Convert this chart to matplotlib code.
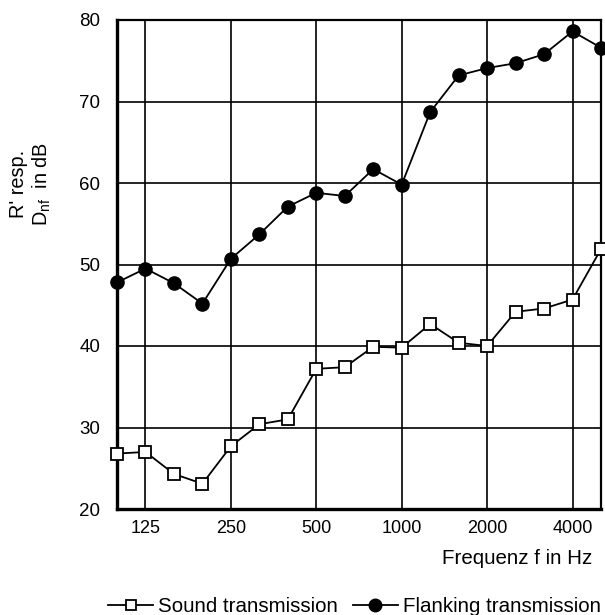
import matplotlib
matplotlib.use("Agg")
import matplotlib.pyplot as plt
import numpy as np

plt.rcParams['font.family'] = ['Liberation Sans', 'DejaVu Sans']
plt.rcParams['mathtext.fontset'] = 'custom'
plt.rcParams['mathtext.rm'] = 'Liberation Sans'
plt.rcParams['mathtext.it'] = 'Liberation Sans'

# third-octave bands 100 Hz .. 5000 Hz
bands = [100, 125, 160, 200, 250, 315, 400, 500, 630, 800,
         1000, 1250, 1600, 2000, 2500, 3150, 4000, 5000]
sound = [26.8, 27.0, 24.3, 23.1, 27.7, 30.4, 31.0, 37.2, 37.4, 39.9,
         39.8, 42.7, 40.4, 40.0, 44.2, 44.6, 45.7, 51.9]
flanking = [47.8, 49.5, 47.7, 45.2, 50.7, 53.7, 57.1, 58.8, 58.4, 61.7,
            59.8, 68.7, 73.2, 74.1, 74.7, 75.8, 78.6, 76.6]
tick_labels = ["125", "250", "500", "1000", "2000", "4000"]
yticks = [20, 30, 40, 50, 60, 70, 80]

x = np.arange(len(bands))
tick_pos = [bands.index(int(t)) for t in tick_labels]

fig = plt.figure(figsize=(6.05, 6.15), dpi=100)
ax = fig.add_axes([117 / 605, 1 - 509 / 615, 484 / 605, 489 / 615])

ax.set_xlim(x[0], x[-1])
ax.set_ylim(20, 80)
ax.set_xticks(tick_pos)
ax.set_xticklabels(tick_labels, fontsize=13)
ax.set_yticks(yticks)
ax.set_yticklabels([str(v) for v in yticks], fontsize=13.5)
ax.tick_params(axis='both', length=0)
ax.tick_params(axis='y', pad=12)
ax.tick_params(axis='x', pad=8)
ax.grid(True, color='black', linewidth=1.2)
ax.set_axisbelow(True)

for side in ['left', 'bottom']:
    ax.spines[side].set_linewidth(2.4)
for side in ['top', 'right']:
    ax.spines[side].set_linewidth(1.6)

l1, = ax.plot(x, sound, color='black', linewidth=1.3, marker='s',
              markersize=8, markerfacecolor='white', markeredgecolor='black',
              markeredgewidth=1.3, clip_on=False, zorder=3,
              label='Sound transmission')
l2, = ax.plot(x, flanking, color='black', linewidth=1.3, marker='o',
              markersize=9.5, markerfacecolor='black', clip_on=False,
              zorder=3, label='Flanking transmission')

fig.text(31 / 605, 1 - 184 / 615, "R' resp.\nD$_{\\mathrm{nf}}$  in dB",
         rotation=90, ha='center', va='center', multialignment='center',
         fontsize=14.3, linespacing=1.15)
fig.text(592 / 605, 1 - 558 / 615, "Frequenz f in Hz", ha='right',
         va='center', fontsize=14.8)

fig.legend(handles=[l1, l2], loc='center right',
           bbox_to_anchor=(601 / 605, 1 - 607 / 615), ncol=2, frameon=False,
           fontsize=14.8, handlelength=2.2, handletextpad=0.25,
           columnspacing=0.7, borderpad=0, borderaxespad=0, markerscale=0.95)

fig.savefig("out.png", dpi=100)
